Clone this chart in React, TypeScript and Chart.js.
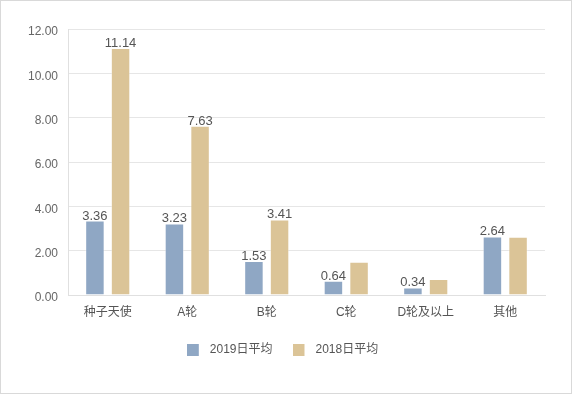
import React, { useEffect, useRef } from "react";
import { Chart, registerables } from "chart.js";

Chart.register(...registerables);

const categories = ["种子天使", "A轮", "B轮", "C轮", "D轮及以上", "其他"];
const series2019 = [3.36, 3.23, 1.53, 0.64, 0.34, 2.64];
const series2018 = [11.14, 7.63, 3.41, 1.5, 0.72, 2.63];
const show2019Labels = [true, true, true, true, true, true];
const show2018Labels = [true, true, true, false, false, false];
const seriesNames = ["2019日平均", "2018日平均"];
const colors = ["#8fa7c4", "#dbc497"];

const FONT = "'Liberation Sans', Arial, 'Noto Sans CJK SC', sans-serif";

function makeSwatch(color: string) {
  const c = document.createElement("canvas");
  c.width = 17;
  c.height = 12;
  const ctx = c.getContext("2d")!;
  ctx.fillStyle = color;
  ctx.fillRect(0, 0, 12, 12);
  return c;
}

const valueLabels = {
  id: "valueLabels",
  afterDatasetsDraw(chart: any) {
    const ctx = chart.ctx;
    const flags = [show2019Labels, show2018Labels];
    ctx.save();
    ctx.font = `13px ${FONT}`;
    ctx.fillStyle = "#555";
    ctx.textAlign = "center";
    ctx.textBaseline = "alphabetic";
    chart.data.datasets.forEach((ds: any, di: number) => {
      const meta = chart.getDatasetMeta(di);
      meta.data.forEach((bar: any, i: number) => {
        if (!flags[di][i]) return;
        ctx.fillText(Number(ds.data[i]).toFixed(2), bar.x, bar.y - 1);
      });
    });
    ctx.restore();
  },
};

export default function App() {
  const ref = useRef<HTMLCanvasElement>(null);
  useEffect(() => {
    document.body.style.margin = "0";
    const swatches = colors.map(makeSwatch);
    const chart = new Chart(ref.current!, {
      type: "bar",
      data: {
        labels: categories,
        datasets: [
          {
            label: seriesNames[0],
            data: series2019,
            backgroundColor: colors[0],
            borderColor: "rgba(255,255,255,0.35)",
            borderWidth: 1,
            categoryPercentage: 0.645,
            barPercentage: 0.76,
          },
          {
            label: seriesNames[1],
            data: series2018,
            backgroundColor: colors[1],
            borderColor: "rgba(255,255,255,0.35)",
            borderWidth: 1,
            categoryPercentage: 0.645,
            barPercentage: 0.76,
          },
        ],
      },
      options: {
        animation: false,
        responsive: false,
        devicePixelRatio: 1,
        layout: { padding: { left: 19, right: 26, top: 28, bottom: 27 } },
        scales: {
          x: {
            grid: { display: false, drawTicks: false },
            border: { display: true, color: "#e0e0e0", width: 1 },
            ticks: { color: "#555", font: { size: 12, family: FONT }, padding: 10 },
            afterFit: (s: any) => {
              s.height = 29;
            },
          },
          y: {
            min: 0,
            max: 12,
            ticks: {
              stepSize: 2,
              color: "#666",
              padding: 10,
              labelOffset: 3,
              font: { size: 12, family: FONT },
              callback: (v: any) => Number(v).toFixed(2),
            },
            grid: { color: "#e6e6e6", drawTicks: false },
            border: { display: true, color: "#e0e0e0" },
            afterFit: (s: any) => {
              s.width = 48;
            },
          },
        },
        plugins: {
          tooltip: { enabled: false },
          legend: {
            position: "bottom",
            labels: {
              usePointStyle: true,
              pointStyleWidth: 17,
              padding: 20,
              color: "#555",
              font: { size: 12, family: FONT },
              generateLabels: (c: any) =>
                Chart.defaults.plugins.legend.labels
                  .generateLabels(c)
                  .map((l: any, i: number) => ({ ...l, pointStyle: swatches[i] })),
            },
          },
        },
      },
      plugins: [valueLabels],
    } as any);
    return () => chart.destroy();
  }, []);
  return (
    <div
      style={{
        position: "absolute",
        left: 0,
        top: 0,
        width: 572,
        height: 394,
        boxSizing: "border-box",
        border: "1px solid #d9d9d9",
        background: "#fff",
      }}
    >
      <canvas ref={ref} width={570} height={392} style={{ display: "block" }} />
    </div>
  );
}
